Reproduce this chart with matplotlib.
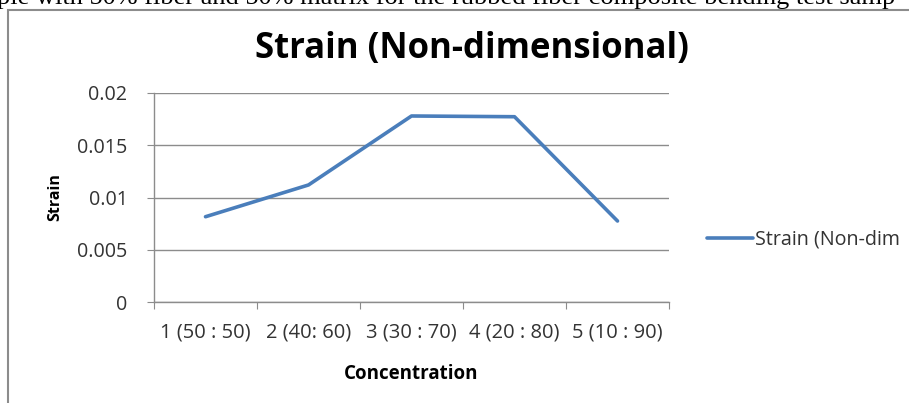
import matplotlib.pyplot as plt
from matplotlib.patches import Rectangle

categories = ['1 (50 : 50)', '2 (40: 60)', '3 (30 : 70)', '4 (20 : 80)', '5 (10 : 90)']
strain = [0.00816, 0.0112, 0.0178, 0.01773, 0.00775]
yticks = [0, 0.005, 0.01, 0.015, 0.02]
ytick_labels = ['0', '0.005', '0.01', '0.015', '0.02']

W, H = 909, 403
fig = plt.figure(figsize=(W / 100, H / 100), dpi=100)
fig.patch.set_facecolor('white')

# caption from the page above the chart, cut off at the top
fig.text(-0.003, 1 - 4 / H,
         'ple with 50% fiber and 50% matrix for the rubbed fiber composite bending test samp',
         family='Liberation Serif', fontsize=19, va='baseline', ha='left', color='black')

# chart frame
fig.patches.append(Rectangle((8 / W, -0.05), 1.2, 1 - 10 / H + 0.05,
                             transform=fig.transFigure, fill=False,
                             edgecolor='#8c8c8c', linewidth=1.5))

ax = fig.add_axes([154 / W, 1 - 302 / H, 515 / W, 209 / H])
x = list(range(len(categories)))
ax.plot(x, strain, color='#4A7EBB', linewidth=2.6, solid_capstyle='round',
        label='Strain (Non-dim')

ax.set_xlim(-0.5, len(categories) - 0.5)
ax.set_ylim(0, 0.02)
ax.set_yticks(yticks)
ax.set_yticklabels(ytick_labels)
ax.yaxis.grid(True, color='#8c8c8c', linewidth=1)
ax.set_axisbelow(True)

ax.set_xticks([i - 0.5 for i in range(len(categories) + 1)])
ax.set_xticklabels([])
ax.set_xticks(x, minor=True)
ax.set_xticklabels(categories, minor=True)
ax.tick_params(axis='x', which='minor', length=0, pad=15, labelsize=14.5, labelcolor='#333333')
ax.tick_params(axis='x', which='major', length=5, color='#8c8c8c', direction='out')
ax.tick_params(axis='y', length=5, color='#8c8c8c', direction='out', pad=14,
               labelsize=14.2, labelcolor='#333333')

for side in ['top', 'right']:
    ax.spines[side].set_visible(False)
for side in ['left', 'bottom']:
    ax.spines[side].set_color('#8c8c8c')
    ax.spines[side].set_linewidth(1)

for lbl in ax.get_xticklabels(minor=True) + ax.get_yticklabels():
    lbl.set_family('Open Sans')

fig.text(472 / W, 1 - 49 / H, 'Strain (Non-dimensional)', family='Open Sans',
         fontweight='bold', fontsize=25, ha='center', va='center')
ax.set_xlabel('Concentration', family='Open Sans', fontweight='bold', fontsize=13.5,
              labelpad=15)
ax.set_ylabel('Strain', family='Open Sans', fontweight='bold', fontsize=11.5,
              labelpad=10)

leg = ax.legend(loc='center left', bbox_to_anchor=(1.04, 0.297), frameon=False,
                handlelength=2.3, handletextpad=0.1, prop={'family': 'Open Sans', 'size': 14.2})
for t in leg.get_texts():
    t.set_color('#333333')

fig.savefig('out.png', dpi=100)
